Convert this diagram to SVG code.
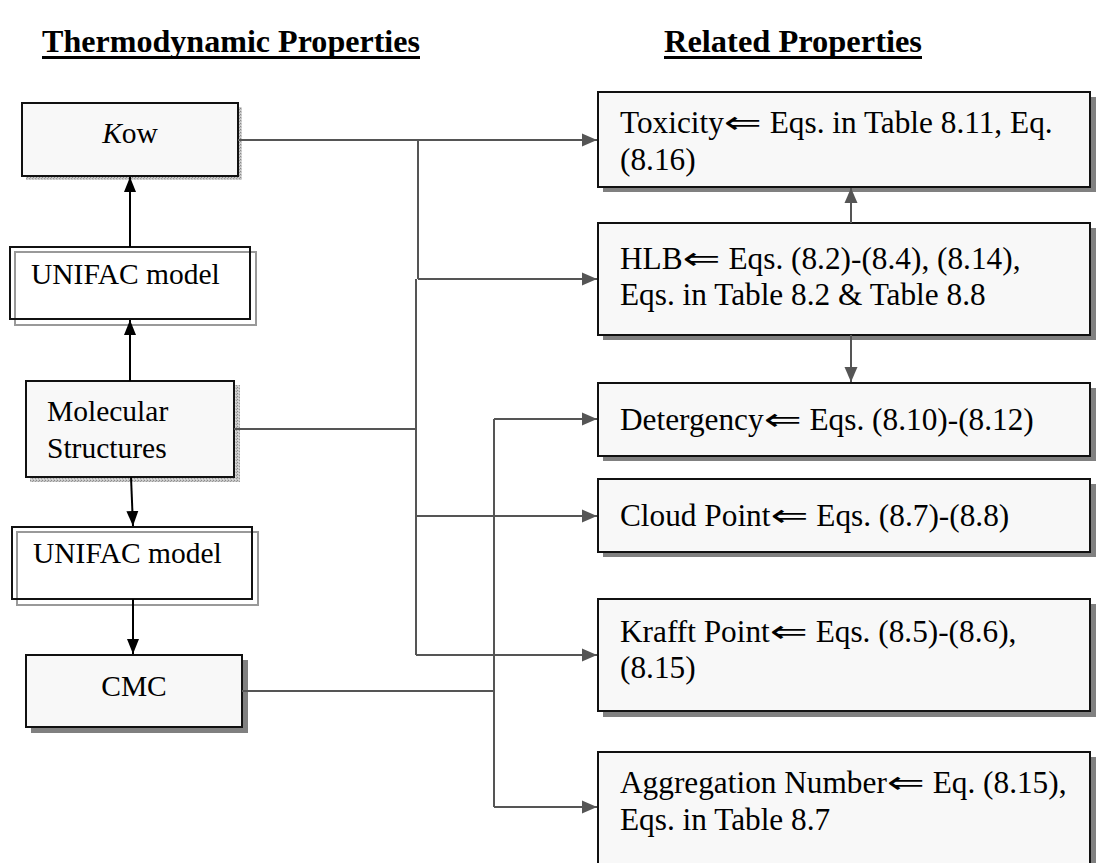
<svg xmlns="http://www.w3.org/2000/svg" width="1096" height="863" viewBox="0 0 1096 863">
  <defs>
    <!-- grainy stipple used for the drop shadows of the input boxes -->
    <pattern id="stipple" width="3" height="3" patternUnits="userSpaceOnUse">
      <rect width="3" height="3" fill="#c8c8c8"/>
      <rect width="1" height="1" fill="#8a8a8a"/>
      <rect x="2" y="1" width="1" height="1" fill="#9a9a9a"/>
      <rect x="1" y="2" width="1" height="1" fill="#e0e0e0"/>
    </pattern>
    <marker id="arrowBlack" markerUnits="userSpaceOnUse" markerWidth="15" markerHeight="13" refX="15" refY="6.5" orient="auto">
      <path d="M0,0.5 L15,6.5 L0,12.5 z" fill="#000"/>
    </marker>
    <marker id="arrowGray" markerUnits="userSpaceOnUse" markerWidth="15" markerHeight="14" refX="15" refY="7" orient="auto">
      <path d="M0,0.5 L15,7 L0,13.5 z" fill="#555"/>
    </marker>
  </defs>
  <style>
    text { font-family: "Liberation Serif", "Times New Roman", serif; fill: #000; }
    .hdr { font-size: 32px; font-weight: bold; }
    .lbl { font-size: 29.5px; }
    .rl { font-size: 31.3px; }
    .imp { font-family: "DejaVu Sans", sans-serif; }
    .box { fill: #f8f8f8; stroke: #111; stroke-width: 2; }
    .frame { fill: none; stroke: #111; stroke-width: 2; }
    .ghost { fill: none; stroke: #999; stroke-width: 2; }
    .shadow { fill: #808080; }
    .grain { fill: url(#stipple); }
    .lk { fill: none; stroke: #000; stroke-width: 2; marker-end: url(#arrowBlack); }
    .rk { fill: none; stroke: #555; stroke-width: 2; }
    .ra { fill: none; stroke: #555; stroke-width: 2; marker-end: url(#arrowGray); }
  </style>

  <!-- column headings -->
  <g id="headings">
    <text class="hdr" x="42" y="52" textLength="378" lengthAdjust="spacingAndGlyphs">Thermodynamic Properties</text>
    <rect x="42" y="56" width="378" height="3" fill="#000"/>
    <text class="hdr" x="664" y="52" textLength="258" lengthAdjust="spacingAndGlyphs">Related Properties</text>
    <rect x="664" y="56" width="258" height="3" fill="#000"/>
  </g>

  <!-- left column -->
  <g id="kow">
    <rect class="grain" x="26" y="107" width="216" height="73"/>
    <rect class="box" x="22" y="103" width="216" height="73"/>
    <text class="lbl" x="130" y="143" text-anchor="middle"><tspan font-style="italic">K</tspan>ow</text>
  </g>

  <g id="unifac-top">
    <rect fill="#fff" x="10" y="247" width="246" height="78"/>
    <rect class="ghost" x="15" y="252" width="241" height="73"/>
    <rect class="frame" x="10" y="247" width="240" height="72"/>
    <text class="lbl" x="31" y="284">UNIFAC model</text>
  </g>

  <g id="molecular-structures">
    <rect class="grain" x="30" y="385" width="210" height="97"/>
    <rect class="box" x="26" y="381" width="208" height="96"/>
    <text class="lbl" x="47" y="421">Molecular</text>
    <text class="lbl" x="47" y="458">Structures</text>
  </g>

  <g id="unifac-bottom">
    <rect fill="#fff" x="12" y="527" width="246" height="78"/>
    <rect class="ghost" x="17" y="532" width="241" height="73"/>
    <rect class="frame" x="12" y="527" width="240" height="72"/>
    <text class="lbl" x="33" y="563">UNIFAC model</text>
  </g>

  <g id="cmc">
    <rect class="shadow" x="31" y="660" width="217" height="73"/>
    <rect class="box" x="26" y="655" width="216" height="72"/>
    <text class="lbl" x="134" y="696" text-anchor="middle">CMC</text>
  </g>

  <!-- right column -->
  <g id="toxicity">
    <rect class="shadow" x="603" y="97" width="493" height="95"/>
    <rect class="box" x="598" y="92" width="492" height="95"/>
    <text class="rl" x="620" y="133">Toxicity<tspan class="imp" textLength="38" lengthAdjust="spacingAndGlyphs">⇐</tspan> Eqs. in Table 8.11, Eq.</text>
    <text class="rl" x="620" y="170">(8.16)</text>
  </g>

  <g id="hlb">
    <rect class="shadow" x="603" y="228" width="493" height="112"/>
    <rect class="box" x="598" y="223" width="492" height="112"/>
    <text class="rl" x="620" y="269">HLB<tspan class="imp" textLength="38" lengthAdjust="spacingAndGlyphs">⇐</tspan> Eqs. (8.2)-(8.4), (8.14),</text>
    <text class="rl" x="620" y="305">Eqs. in Table 8.2 &amp; Table 8.8</text>
  </g>

  <g id="detergency">
    <rect class="shadow" x="603" y="388" width="493" height="73"/>
    <rect class="box" x="598" y="383" width="492" height="73"/>
    <text class="rl" x="620" y="430">Detergency<tspan class="imp" textLength="38" lengthAdjust="spacingAndGlyphs">⇐</tspan> Eqs. (8.10)-(8.12)</text>
  </g>

  <g id="cloud-point">
    <rect class="shadow" x="603" y="484" width="493" height="73"/>
    <rect class="box" x="598" y="479" width="492" height="73"/>
    <text class="rl" x="620" y="526">Cloud Point<tspan class="imp" textLength="38" lengthAdjust="spacingAndGlyphs">⇐</tspan> Eqs. (8.7)-(8.8)</text>
  </g>

  <g id="krafft-point">
    <rect class="shadow" x="603" y="604" width="493" height="113"/>
    <rect class="box" x="598" y="599" width="492" height="112"/>
    <text class="rl" x="620" y="642">Krafft Point<tspan class="imp" textLength="38" lengthAdjust="spacingAndGlyphs">⇐</tspan> Eqs. (8.5)-(8.6),</text>
    <text class="rl" x="620" y="678">(8.15)</text>
  </g>

  <g id="aggregation-number">
    <rect class="shadow" x="603" y="757" width="493" height="115"/>
    <rect class="box" x="598" y="752" width="492" height="115"/>
    <text class="rl" x="620" y="793">Aggregation Number<tspan class="imp" textLength="38" lengthAdjust="spacingAndGlyphs">⇐</tspan> Eq. (8.15),</text>
    <text class="rl" x="620" y="830">Eqs. in Table 8.7</text>
  </g>

  <!-- connectors -->
  <g id="connectors">
    <!-- left column chain -->
    <line class="lk" x1="130" y1="247" x2="130" y2="177"/>
    <line class="lk" x1="130" y1="381" x2="130" y2="320"/>
    <line class="lk" x1="131" y1="477" x2="133" y2="526"/>
    <line class="lk" x1="133" y1="599" x2="133" y2="654"/>

    <!-- Kow feeds Toxicity and HLB -->
    <line class="ra" x1="238" y1="140" x2="597" y2="140"/>
    <polyline class="rk" points="418,140 418,279"/>
    <line class="ra" x1="418" y1="279" x2="597" y2="279"/>

    <!-- Molecular Structures bus -->
    <line class="rk" x1="234" y1="429" x2="416" y2="429"/>
    <line class="rk" x1="416" y1="279" x2="416" y2="655"/>
    <line class="ra" x1="416" y1="516" x2="597" y2="516"/>
    <line class="ra" x1="416" y1="655" x2="597" y2="655"/>

    <!-- CMC bus -->
    <line class="rk" x1="242" y1="691" x2="494" y2="691"/>
    <line class="rk" x1="494" y1="419" x2="494" y2="807"/>
    <line class="ra" x1="494" y1="419" x2="597" y2="419"/>
    <line class="ra" x1="494" y1="807" x2="597" y2="807"/>

    <!-- HLB links -->
    <line class="ra" x1="851" y1="223" x2="851" y2="188"/>
    <line class="ra" x1="851" y1="335" x2="851" y2="382"/>
  </g>
</svg>
